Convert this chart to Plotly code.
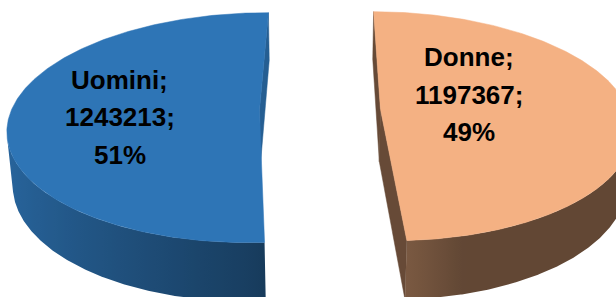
import numpy as np
import plotly.graph_objects as go

# ---------------- data ----------------
categories = ["Uomini", "Donne"]
values = [1243213, 1197367]
percent_labels = ["51%", "49%"]

# ---------------- style ----------------
top_colors = [(46, 117, 182), (244, 177, 131)]
START_DEG = 176.9          # first slice starts here (clockwise from 12 o'clock)
PULL = 0.244               # explosion, in radius units
THICK = 0.243              # pie thickness, radius units
ALPHA = np.radians(26.9)   # camera elevation
DC = 5.94                  # camera distance
SCALE = 1473
X0, Y0 = 320, 109.7
LABEL_R = [0.558, 0.390]
LABEL_SHIFT = [-4.6, -17.8]
LINE_GAP = 37.5
W, H = 616, 297

CAM = np.array([0.0, -DC * np.cos(ALPHA), DC * np.sin(ALPHA)])


def depth_of(X, Y, Z):
    return DC + Y * np.cos(ALPHA) - Z * np.sin(ALPHA)


def proj(X, Y, Z):
    X = np.asarray(X, float); Y = np.asarray(Y, float); Z = np.asarray(Z, float)
    d = depth_of(X, Y, Z)
    sy = Y * np.sin(ALPHA) + Z * np.cos(ALPHA)
    return X0 + SCALE * X / d, Y0 - SCALE * sy / d


def rgb(c, f=1.0):
    return "rgb(%d,%d,%d)" % tuple(int(max(0, min(255, round(v * f)))) for v in c)


def wall_factor(nx):
    if nx <= 0:
        return 0.53 + 0.34 * (-nx)
    return 0.53 - 0.13 * min(1.0, nx / 0.25)


def cut_factor(nx):
    return 0.61 + 0.19 * nx


total = float(sum(values))
spans = [360.0 * v / total for v in values]

fig = go.Figure()
side_items = []   # (depth, trace)
top_traces = []
label_pts = []

ang = START_DEG
for i, (cat, span) in enumerate(zip(categories, spans)):
    ts, te = ang, ang + span
    ang = te
    tm = np.radians((ts + te) / 2)
    ox, oy = PULL * np.sin(tm), PULL * np.cos(tm)

    # top face
    th = np.radians(np.linspace(ts, te, 300))
    X = np.concatenate([[ox], ox + np.sin(th), [ox]])
    Y = np.concatenate([[oy], oy + np.cos(th), [oy]])
    xs, ys = proj(X, Y, np.zeros_like(X))
    col = rgb(top_colors[i])
    top_traces.append(go.Scatter(x=xs, y=ys, mode="lines", fill="toself", fillcolor=col,
                                 line=dict(color=col, width=0.5), hoverinfo="skip"))

    # outer wall (visible part only), horizontal gradient
    th = np.radians(np.linspace(ts, te, 721))
    Xr, Yr = ox + np.sin(th), oy + np.cos(th)
    vis = (np.sin(th) * (CAM[0] - Xr) + np.cos(th) * (CAM[1] - Yr)) > 0
    if vis.any():
        idx = np.where(vis)[0]
        a, b = idx.min(), idx.max()
        tv = th[a:b + 1]
        Xv, Yv = Xr[a:b + 1], Yr[a:b + 1]
        xt, yt = proj(Xv, Yv, np.zeros_like(Xv))
        xb, yb = proj(Xv, Yv, np.full_like(Xv, -THICK))
        px = np.concatenate([xt, xb[::-1], xt[:1]])
        py = np.concatenate([yt, yb[::-1], yt[:1]])
        x_min, x_max = float(px.min()), float(px.max())
        samp = np.linspace(0, len(tv) - 1, 40).astype(int)
        pts = sorted((float((xt[j] - x_min) / (x_max - x_min)),
                      rgb(top_colors[i], wall_factor(np.sin(tv[j])))) for j in samp)
        pts[0] = (0.0, pts[0][1]); pts[-1] = (1.0, pts[-1][1])
        cs, last = [], -1
        for p, c in pts:
            if p > last:
                cs.append([p, c]); last = p
        cs[-1][0] = 1.0
        mid = np.array([Xv.mean(), Yv.mean(), -THICK / 2])
        side_items.append((depth_of(*mid.tolist()), go.Scatter(
            x=px, y=py, mode="lines", fill="toself",
            fillgradient=dict(type="horizontal", colorscale=cs, start=x_min, stop=x_max),
            line=dict(width=0), hoverinfo="skip")))

    # cut faces
    for t, nang in ((np.radians(ts), np.radians(ts - 90)), (np.radians(te), np.radians(te + 90))):
        n = np.array([np.sin(nang), np.cos(nang), 0.0])
        pts3 = np.array([[ox, oy, 0.0],
                         [ox + np.sin(t), oy + np.cos(t), 0.0],
                         [ox + np.sin(t), oy + np.cos(t), -THICK],
                         [ox, oy, -THICK]])
        P = pts3.mean(axis=0)
        if np.dot(n, CAM - P) <= 0:
            continue
        xs, ys = proj(pts3[:, 0], pts3[:, 1], pts3[:, 2])
        c = rgb(top_colors[i], cut_factor(n[0]))
        side_items.append((depth_of(*P.tolist()), go.Scatter(
            x=np.append(xs, xs[0]), y=np.append(ys, ys[0]), mode="lines", fill="toself",
            fillcolor=c, line=dict(color=c, width=0.5), hoverinfo="skip")))

    # label anchor
    la = np.radians((ts + te) / 2 + LABEL_SHIFT[i])
    lx = ox + LABEL_R[i] * np.sin(la)
    ly = oy + LABEL_R[i] * np.cos(la)
    px_, py_ = proj(lx, ly, 0.0)
    label_pts.append((float(px_), float(py_)))

side_items.sort(key=lambda it: -it[0])
for _, tr in side_items:
    fig.add_trace(tr)
for tr in top_traces:
    fig.add_trace(tr)

for i, (px_, py_) in enumerate(label_pts):
    lines = [f"{categories[i]};", f"{values[i]};", percent_labels[i]]
    for k, txt in enumerate(lines):
        fig.add_annotation(x=px_, y=py_ + (k - 1) * LINE_GAP, text=f"<b>{txt}</b>",
                           showarrow=False, xref="x", yref="y",
                           font=dict(family="Arial, Liberation Sans, sans-serif", size=26, color="black"))

fig.update_layout(width=W, height=H, margin=dict(l=0, r=0, t=0, b=0),
                  paper_bgcolor="white", plot_bgcolor="white", showlegend=False,
                  xaxis=dict(range=[0, W], visible=False, fixedrange=True),
                  yaxis=dict(range=[H, 0], visible=False, fixedrange=True))
fig.write_html("out.html", config={"displayModeBar": False},
               post_script="document.body.style.margin='0';document.body.style.overflow='hidden';")
